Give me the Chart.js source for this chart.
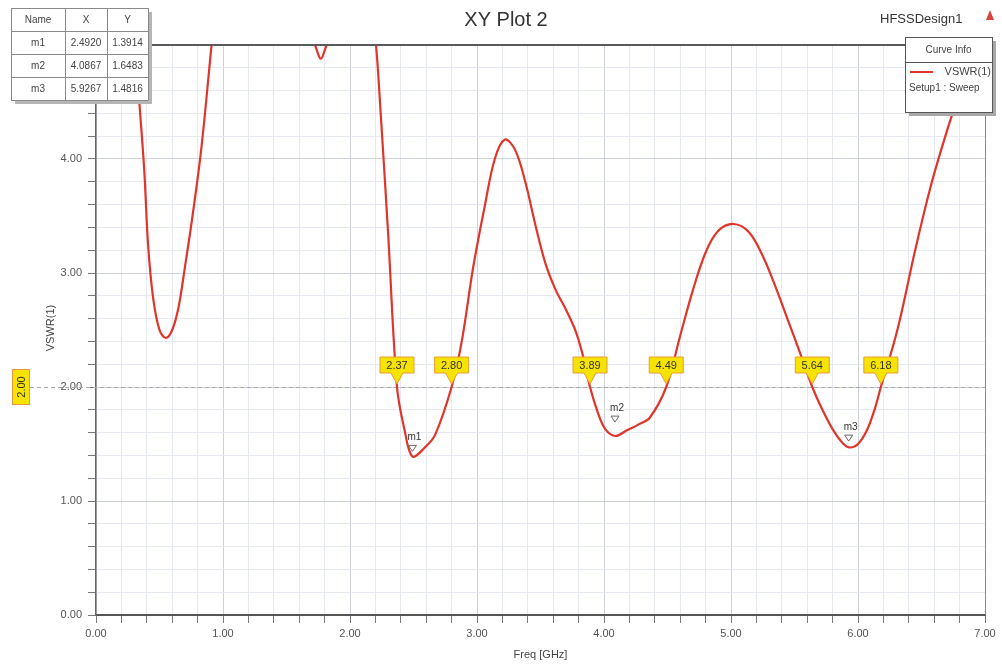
<!DOCTYPE html>
<html>
<head>
<meta charset="utf-8">
<script src="https://cdn.jsdelivr.net/npm/chart.js@4.4.0/dist/chart.umd.min.js"></script>
<style>
  html, body { margin: 0; padding: 0; background: #fff; }
</style>
</head>
<body>
<canvas id="xy-plot" width="1002" height="667"></canvas>
<script>
// VSWR(1) curve (GHz, VSWR); values above 5 are off-scale
const freq = [0.25, 0.30, 0.34, 0.38, 0.41, 0.45, 0.50, 0.55, 0.60, 0.65, 0.70, 0.76, 0.83, 0.91,
  1.00, 1.30, 1.60, 1.70, 1.74, 1.77, 1.80, 1.84, 1.95, 2.10, 2.205, 2.24, 2.30, 2.37, 2.43, 2.492,
  2.59, 2.67, 2.80, 2.88, 2.97, 3.06, 3.14, 3.22, 3.30, 3.38, 3.46, 3.54, 3.62, 3.70, 3.78, 3.84, 3.89,
  3.95, 4.01, 4.09, 4.18, 4.27, 4.36, 4.49, 4.60, 4.70, 4.80, 4.90, 5.02, 5.14, 5.25, 5.35, 5.45, 5.55,
  5.64, 5.72, 5.80, 5.87, 5.93, 6.00, 6.07, 6.13, 6.18, 6.31, 6.45, 6.57, 6.66, 6.75, 6.85, 6.95];
const vswr = [6.0, 5.2, 4.52, 3.9, 3.25, 2.78, 2.5, 2.43, 2.5, 2.7, 3.05, 3.5, 4.1, 5.0,
  6.0, 6.5, 5.8, 5.1, 4.95, 4.88, 4.95, 5.1, 5.9, 6.2, 5.0, 4.43, 3.35, 2.0, 1.62, 1.39,
  1.47, 1.58, 2.0, 2.4, 3.05, 3.58, 4.0, 4.17, 4.08, 3.8, 3.42, 3.08, 2.85, 2.68, 2.48, 2.25, 2.0,
  1.78, 1.63, 1.57, 1.62, 1.67, 1.73, 2.0, 2.45, 2.85, 3.18, 3.37, 3.43, 3.36, 3.15, 2.88, 2.58, 2.28,
  2.0, 1.80, 1.63, 1.52, 1.47, 1.50, 1.62, 1.80, 2.0, 2.5, 3.2, 3.75, 4.1, 4.42, 4.75, 5.1];

const markerNames = ["m1", "m2", "m3"];
const markerX = [2.4920, 4.0867, 5.9267];
const markerY = [1.3914, 1.6483, 1.4816];

const flagX = [2.37, 2.80, 3.89, 4.49, 5.64, 6.18];
const threshold = 2.0;

const xRange = [0, 7];
const yRange = [0, 5];
const gridStep = 0.2;

const FONT = "'Liberation Sans', Arial, sans-serif";
const isMajor = (v) => Math.abs(v - Math.round(v)) < 1e-6;

const yellow = "#f6e400";
const flagEdge = "#e79a3c";

const extras = {
  id: "hfssExtras",
  beforeDatasetsDraw(chart) {
    const { ctx, chartArea: a, scales: { y } } = chart;
    const ty = Math.round(y.getPixelForValue(threshold)) + 0.5;
    ctx.save();
    ctx.strokeStyle = "#a9a9a9";
    ctx.lineWidth = 1;
    ctx.setLineDash([4, 3]);
    ctx.beginPath();
    ctx.moveTo(30, ty);
    ctx.lineTo(a.right, ty);
    ctx.stroke();
    ctx.restore();
  },
  afterDatasetsDraw(chart) {
    const { ctx, chartArea: a, scales: { x, y } } = chart;
    const ty = y.getPixelForValue(threshold);
    ctx.save();

    // plot frame (top + right)
    ctx.strokeStyle = "#5a5a5a";
    ctx.lineWidth = 2;
    ctx.beginPath();
    ctx.moveTo(a.left, a.top);
    ctx.lineTo(a.right, a.top);
    ctx.stroke();
    ctx.strokeStyle = "#8a8a8a";
    ctx.lineWidth = 1;
    ctx.beginPath();
    ctx.moveTo(a.right + 0.5, a.top);
    ctx.lineTo(a.right + 0.5, a.bottom);
    ctx.stroke();

    // threshold crossing flags
    ctx.font = "11px " + FONT;
    ctx.textAlign = "center";
    ctx.textBaseline = "middle";
    flagX.forEach((f) => {
      const px = x.getPixelForValue(f);
      const top = ty - 30;
      ctx.fillStyle = yellow;
      ctx.strokeStyle = flagEdge;
      ctx.lineWidth = 1;
      ctx.beginPath();
      ctx.moveTo(px - 17, top);
      ctx.lineTo(px + 17, top);
      ctx.lineTo(px + 17, top + 16);
      ctx.lineTo(px + 6, top + 16);
      ctx.lineTo(px, ty - 3);
      ctx.lineTo(px - 6, top + 16);
      ctx.lineTo(px - 17, top + 16);
      ctx.closePath();
      ctx.fill();
      ctx.stroke();
      ctx.fillStyle = "#333";
      ctx.fillText(f.toFixed(2), px, top + 8.5);
    });

    // markers m1..m3
    ctx.font = "10px " + FONT;
    markerNames.forEach((name, i) => {
      const px = x.getPixelForValue(markerX[i]);
      const py = y.getPixelForValue(markerY[i]);
      ctx.strokeStyle = "#666";
      ctx.lineWidth = 1;
      ctx.beginPath();
      ctx.moveTo(px - 4, py - 11);
      ctx.lineTo(px + 4, py - 11);
      ctx.lineTo(px, py - 5);
      ctx.closePath();
      ctx.stroke();
      ctx.fillStyle = "#333";
      ctx.fillText(name, px + 2, py - 19);
    });
    ctx.restore();
  },
  afterDraw(chart) {
    const { ctx, chartArea: a, scales: { y } } = chart;
    const ty = y.getPixelForValue(threshold);
    ctx.save();

    // titles
    ctx.fillStyle = "#333";
    ctx.textAlign = "center";
    ctx.textBaseline = "middle";
    ctx.font = "20px " + FONT;
    ctx.fillText("XY Plot 2", 506, 20);
    ctx.font = "13px " + FONT;
    ctx.textAlign = "left";
    ctx.fillText("HFSSDesign1", 880, 19);
    ctx.fillStyle = "#d9453c";
    ctx.beginPath();
    ctx.moveTo(986, 20);
    ctx.lineTo(994, 20);
    ctx.lineTo(990, 10);
    ctx.closePath();
    ctx.fill();

    ctx.fillStyle = "#444";
    ctx.font = "11px " + FONT;
    ctx.textAlign = "center";
    ctx.fillText("Freq [GHz]", (a.left + a.right) / 2, 655);
    ctx.save();
    ctx.translate(51, 328);
    ctx.rotate(-Math.PI / 2);
    ctx.fillText("VSWR(1)", 0, 0);
    ctx.restore();

    // threshold value tag on the left
    ctx.fillStyle = yellow;
    ctx.strokeStyle = flagEdge;
    ctx.fillRect(12, ty - 18, 18, 36);
    ctx.strokeRect(12.5, ty - 17.5, 17, 35);
    ctx.save();
    ctx.translate(21, ty);
    ctx.rotate(-Math.PI / 2);
    ctx.fillStyle = "#333";
    ctx.fillText(threshold.toFixed(2), 0, 1);
    ctx.restore();

    // marker table
    const cols = [11, 65, 107, 148];
    const rows = [8, 31, 54, 77, 100];
    ctx.fillStyle = "#b5b5b5";
    ctx.fillRect(cols[0] + 4, rows[0] + 4, cols[3] - cols[0], rows[4] - rows[0]);
    ctx.fillStyle = "#fff";
    ctx.fillRect(cols[0], rows[0], cols[3] - cols[0], rows[4] - rows[0]);
    ctx.strokeStyle = "#8a8a8a";
    ctx.lineWidth = 1;
    rows.forEach((r) => {
      ctx.beginPath();
      ctx.moveTo(cols[0], r + 0.5);
      ctx.lineTo(cols[3], r + 0.5);
      ctx.stroke();
    });
    cols.forEach((c) => {
      ctx.beginPath();
      ctx.moveTo(c + 0.5, rows[0]);
      ctx.lineTo(c + 0.5, rows[4]);
      ctx.stroke();
    });
    const cells = [["Name", "X", "Y"]].concat(
      markerNames.map((n, i) => [n, markerX[i].toFixed(4), markerY[i].toFixed(4)])
    );
    ctx.fillStyle = "#444";
    ctx.font = "10px " + FONT;
    cells.forEach((row, r) => {
      row.forEach((txt, c) => {
        ctx.fillText(txt, (cols[c] + cols[c + 1]) / 2, (rows[r] + rows[r + 1]) / 2 + 0.5);
      });
    });

    // curve info box
    const bx = 905, by = 37, bw = 87, bh = 75;
    ctx.fillStyle = "#a8a8a8";
    ctx.fillRect(bx + 4, by + 4, bw, bh);
    ctx.fillStyle = "#fff";
    ctx.fillRect(bx, by, bw, bh);
    ctx.strokeStyle = "#555";
    ctx.strokeRect(bx + 0.5, by + 0.5, bw, bh);
    ctx.beginPath();
    ctx.moveTo(bx, by + 25.5);
    ctx.lineTo(bx + bw, by + 25.5);
    ctx.stroke();
    ctx.fillStyle = "#444";
    ctx.font = "10px " + FONT;
    ctx.fillText("Curve Info", bx + bw / 2, by + 13);
    ctx.strokeStyle = "#e0352b";
    ctx.lineWidth = 2;
    ctx.beginPath();
    ctx.moveTo(bx + 5, by + 35);
    ctx.lineTo(bx + 28, by + 35);
    ctx.stroke();
    ctx.font = "11px " + FONT;
    ctx.textAlign = "right";
    ctx.fillText("VSWR(1)", bx + bw - 1, by + 35);
    ctx.font = "10px " + FONT;
    ctx.textAlign = "left";
    ctx.fillText("Setup1 : Sweep", bx + 4, by + 51);
    ctx.restore();
  },
};

const gridColor = (c) => (c.tick && isMajor(c.tick.value) ? "#cdd1d9" : "#e6e9ef");
const tickLabel = (v) => (isMajor(v) ? Number(v).toFixed(2) : "");

new Chart(document.getElementById("xy-plot"), {
  type: "line",
  data: {
    datasets: [
      {
        label: "VSWR(1)",
        data: freq.map((f, i) => ({ x: f, y: vswr[i] })),
        borderColor: "#e0352b",
        borderWidth: 2.2,
        pointRadius: 0,
        fill: false,
        tension: 0.35,
      },
    ],
  },
  options: {
    responsive: false,
    animation: false,
    events: [],
    layout: { padding: { top: 45, right: 17, left: 0, bottom: 0 } },
    plugins: { legend: { display: false }, tooltip: { enabled: false } },
    scales: {
      x: {
        type: "linear",
        min: xRange[0],
        max: xRange[1],
        afterFit: (s) => { s.height = 52; },
        grid: { color: gridColor, tickColor: "#777", tickLength: 8 },
        border: { color: "#555", width: 2 },
        ticks: {
          stepSize: gridStep,
          autoSkip: false,
          maxRotation: 0,
          padding: 4,
          color: "#555",
          font: { family: FONT, size: 11 },
          callback: tickLabel,
        },
      },
      y: {
        min: yRange[0],
        max: yRange[1],
        afterFit: (s) => { s.width = 96; },
        grid: { color: gridColor, tickColor: "#777", tickLength: 8 },
        border: { color: "#666", width: 1.5 },
        ticks: {
          stepSize: gridStep,
          autoSkip: false,
          padding: 6,
          color: "#555",
          font: { family: FONT, size: 11 },
          callback: tickLabel,
        },
      },
    },
  },
  plugins: [extras],
});
</script>
</body>
</html>
